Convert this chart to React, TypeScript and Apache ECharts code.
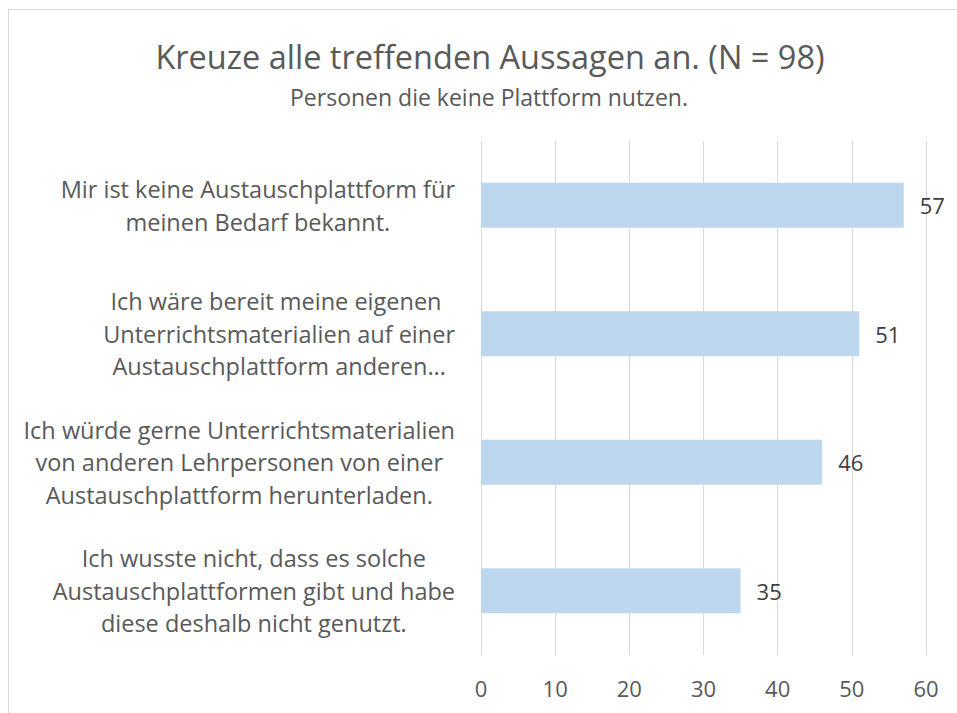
import React, { useEffect, useRef } from "react";
import * as echarts from "echarts";

const titleText = "Kreuze alle treffenden Aussagen an. (N = 98)";
const subtitleText = "Personen die keine Plattform nutzen.";

const categories: string[] = [
  "Mir ist keine Austauschplattform für\nmeinen Bedarf bekannt.",
  "Ich wäre bereit meine eigenen \nUnterrichtsmaterialien auf einer\nAustauschplattform anderen…",
  "Ich würde gerne Unterrichtsmaterialien\nvon anderen Lehrpersonen von einer\nAustauschplattform herunterladen.",
  "Ich wusste nicht, dass es solche\nAustauschplattformen gibt und habe\ndiese deshalb nicht genutzt.",
];
const values: number[] = [57, 51, 46, 35];
const xTicks = { min: 0, max: 60, interval: 10 };

const FONT = "'Open Sans', 'Noto Sans', sans-serif";
const TEXT = "#595959";

export default function App() {
  const ref = useRef<HTMLDivElement>(null);
  useEffect(() => {
    if (!ref.current) return;
    const chart = echarts.init(ref.current, undefined, { renderer: "svg" });
    chart.setOption({
      animation: false,
      backgroundColor: "#ffffff",
      textStyle: { fontFamily: FONT },
      graphic: [
        {
          type: "rect",
          shape: { x: 8.5, y: 9.5, width: 1000, height: 1000 },
          style: { fill: "none", stroke: "#d9d9d9", lineWidth: 1 },
          silent: true,
        },
        {
          type: "text",
          x: 490,
          y: 56,
          style: {
            text: titleText,
            fontSize: 32.5,
            fontFamily: FONT,
            fill: TEXT,
            align: "center",
            verticalAlign: "middle",
          },
        },
        {
          type: "text",
          x: 489,
          y: 97,
          style: {
            text: subtitleText,
            fontSize: 23,
            fontFamily: FONT,
            fill: TEXT,
            align: "center",
            verticalAlign: "middle",
          },
        },
      ],
      grid: { left: 481, right: 957 - 926, top: 141, bottom: 713 - 655, containLabel: false },
      xAxis: {
        type: "value",
        min: xTicks.min,
        max: xTicks.max,
        interval: xTicks.interval,
        axisLine: { show: false },
        axisTick: { show: false },
        axisLabel: { color: TEXT, fontSize: 22, fontFamily: FONT, margin: 22 },
        splitLine: { show: true, lineStyle: { color: "#d9d9d9", width: 1 } },
      },
      yAxis: {
        type: "category",
        data: categories,
        inverse: true,
        axisLine: { show: false },
        axisTick: { show: false },
        axisLabel: {
          margin: 26,
          align: "right",
          formatter: (v: string) => v.split("\n").map((l) => `{c|${l}}`).join("\n"),
          rich: {
            c: { align: "center", fontSize: 23.5, lineHeight: 32.5, color: TEXT, fontFamily: FONT },
          },
        },
      },
      series: [
        {
          type: "bar",
          data: values,
          barWidth: 45,
          itemStyle: { color: "#bdd7ee" },
          label: {
            show: true,
            position: "right",
            distance: 16,
            color: "#404040",
            fontSize: 22,
            fontFamily: FONT,
          },
        },
      ],
    });
    return () => chart.dispose();
  }, []);
  return (
    <div
      ref={ref}
      style={{ position: "fixed", left: 0, top: 0, width: 957, height: 713 }}
    />
  );
}
